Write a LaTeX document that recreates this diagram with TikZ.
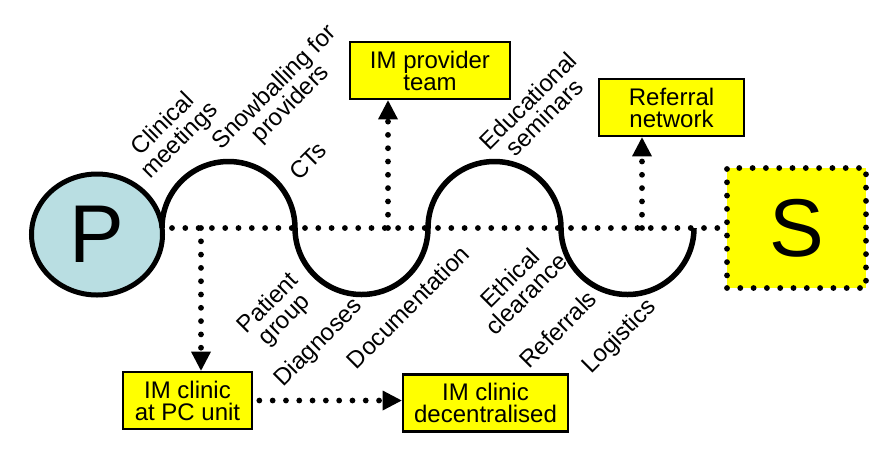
\documentclass[tikz,border=0pt]{standalone}
\usepackage{fontspec}
\setmainfont{Liberation Sans}
\usetikzlibrary{arrows.meta,shapes.geometric}
\definecolor{pblue}{RGB}{185,222,226}
\definecolor{boxyellow}{RGB}{255,255,0}
\tikzset{
  dotline/.style={line width=5.8pt, line cap=round, dash pattern=on 0pt off 13.3pt},
  dotarrow/.style={dotline, -{Triangle[width=20pt,length=19pt,line width=0pt]}},
  ybox/.style={draw=black, line width=2.7pt, fill=boxyellow, minimum width=#1,
    minimum height=57pt, inner sep=0pt, align=center, font=\fontsize{24}{22}\selectfont},
  lbl/.style={rotate=45, align=center, inner sep=0pt, font=\fontsize{24}{23}\selectfont},
  wave/.style={line width=5.5pt}
}
\begin{document}
\begin{tikzpicture}[x=1pt,y=1pt]
\useasboundingbox (0,-459) rectangle (893,0);
% main dotted line
\node[ellipse, draw=black, line width=5pt, fill=pblue, minimum width=131pt,
  minimum height=121pt, inner sep=0pt, font=\fontsize{82}{82}\selectfont] (P) at (97,-234.5) {P};
\node[draw=black, dotline, fill=boxyellow, minimum width=139pt, minimum height=120pt,
  inner sep=0pt, font=\fontsize{82}{82}\selectfont] (S) at (796.5,-228) {S};
\coordinate (L0) at (172,-228);
\draw[dotline] (L0) -- (S.west |- L0);
% wave
\coordinate (w0) at (162,-228);
\draw[wave] (w0) arc[start angle=180,end angle=0,radius=66.5]
  arc[start angle=180,end angle=360,radius=66.5]
  arc[start angle=180,end angle=0,radius=66.5]
  arc[start angle=180,end angle=360,radius=66.5];
% boxes
\node[ybox=160pt] (imp) at (430,-70.5) {IM provider\\team};
\node[ybox=145pt] (ref) at (671.5,-107.5) {Referral\\network};
\node[ybox=129pt] (pc) at (187.5,-400.5) {IM clinic\\at PC unit};
\node[ybox=165pt] (dec) at (485.5,-403) {IM clinic\\decentralised};
% arrows
\coordinate (j1) at (201,-228);
\coordinate (j2) at (388,-228);
\coordinate (j3) at (642,-228);
\draw[dotarrow] (j1) -- (j1 |- pc.north);
\draw[dotarrow] (j2) -- (j2 |- imp.south);
\draw[dotarrow] (j3) -- (j3 |- ref.south);
\draw[dotarrow] ([xshift=6pt]pc.east) -- (dec.west |- pc.east);
% labels
\node[lbl] (l1) at (172,-133) {Clinical\\meetings};
\node[lbl] (l2) at (283,-96) {Snowballing for\\providers};
\node[lbl] (l3) at (308,-161) {CTs};
\node[lbl] (l4) at (536,-109) {Educational\\seminars};
\node[lbl] (l5) at (277,-312) {Patient\\group};
\node[lbl] (l6) at (319,-343) {Diagnoses};
\node[lbl] (l7) at (408,-307) {Documentation};
\node[lbl] (l8) at (518,-286) {Ethical\\clearance};
\node[lbl] (l9) at (558,-329) {Referrals};
\node[lbl] (l10) at (620,-337) {Logistics};
\end{tikzpicture}
\end{document}
